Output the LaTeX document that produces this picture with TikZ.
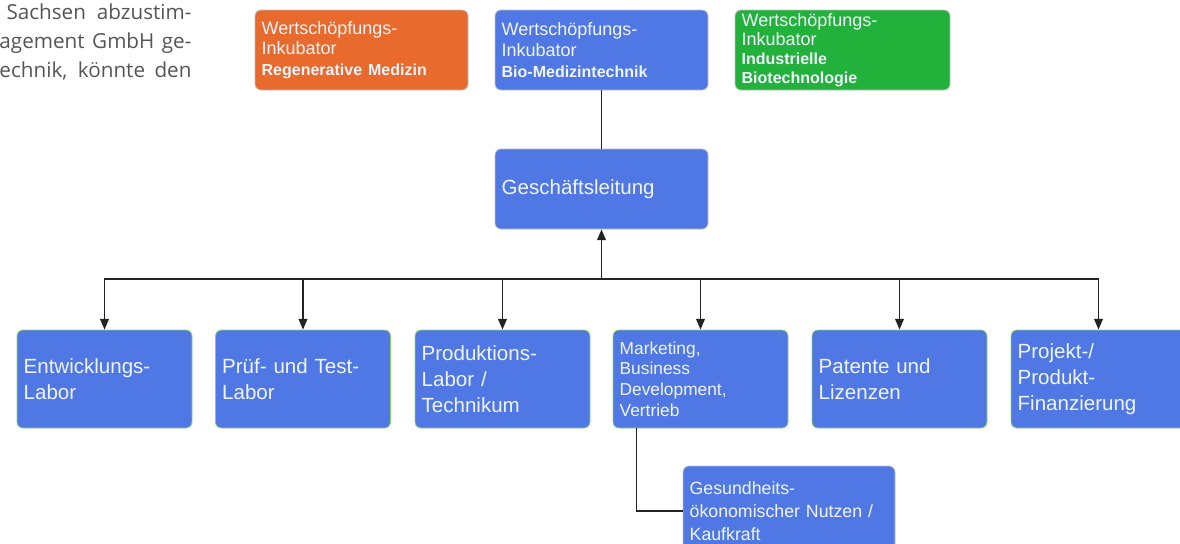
\documentclass[tikz,border=0pt]{standalone}
\usepackage{fontspec}
\setmainfont{Liberation Sans}
\newfontfamily\pagefont{Open Sans}
\usetikzlibrary{arrows.meta}

\tikzset{every picture/.style={line width=0.75pt}}
\tikzset{
  unit/.style={rectangle, rounded corners=4.5pt, draw={rgb, 255:red, 185; green, 190; blue, 200}, line width=0.6pt, fill={rgb, 255:red, 80; green, 120; blue, 228}, text={rgb, 255:red, 240; green, 244; blue, 252}, align=left, inner xsep=5pt, inner ysep=0pt},
  topunit/.style={unit, minimum width=159.75pt, text width=149.75pt, minimum height=60pt, font=\fontsize{13.5}{15.5}\selectfont},
  dept/.style={unit, draw={rgb, 255:red, 140; green, 210; blue, 110}, minimum width=131.25pt, text width=121.25pt, minimum height=73.5pt, font=\fontsize{15.4}{19.5}\selectfont},
  link/.style={draw={rgb, 255:red, 35; green, 35; blue, 35}, line width=1.1pt},
  arr/.style={link, -{Triangle[width=6.5pt,length=8pt]}},
  pagetext/.style={anchor=base east, inner sep=0pt, text={rgb, 255:red, 85; green, 85; blue, 85}, font=\pagefont\fontsize{15.5}{20}\selectfont}
}

\begin{document}
\begin{tikzpicture}[x=0.75pt,y=0.75pt,yscale=-1,xscale=1]
\path[use as bounding box] (0,0) rectangle (1180,543);

% Text Node
\node[pagetext] (pa) at (192,19) {\makebox[138.75pt][s]{Sachsen abzustim-}};
% Text Node
\node[pagetext] (pb) at (192,48) {\makebox[144pt][s]{agement GmbH ge-}};
% Text Node
\node[pagetext] (pc) at (192,77) {\makebox[144pt][s]{echnik, könnte den}};

%Shape: Rectangle [regmed]
\node[topunit, fill={rgb, 255:red, 232; green, 106; blue, 44}] (regmed) at (361.5,50) {Wertschöpfungs-\\Inkubator\\{\bfseries\fontsize{12}{15.5}\selectfont Regenerative Medizin}};
%Shape: Rectangle [biomed]
\node[topunit] (biomed) at (601.5,50) {Wertschöpfungs-\\Inkubator\\{\bfseries\fontsize{12}{15.5}\selectfont Bio-Medizintechnik}};
%Shape: Rectangle [indbio]
\node[topunit, fill={rgb, 255:red, 34; green, 177; blue, 58}, minimum width=161.25pt, text width=151.25pt, font=\fontsize{13.5}{14.25}\selectfont] (indbio) at (842.5,50) {Wertschöpfungs-\\Inkubator\\{\bfseries\fontsize{12}{14.25}\selectfont Industrielle\\Biotechnologie}};

%Shape: Rectangle [gl]
\node[topunit, font=\fontsize{15.4}{18}\selectfont] (gl) at (601.5,189) {Geschäftsleitung};

%Shape: Rectangle [depts]
\node[dept] (entw) at (104.5,379) {Entwicklungs-\\Labor};
\node[dept] (pruef) at (303,379) {Prüf- und Test-\\Labor};
\node[dept] (prod) at (502.5,379) {Produktions-\\Labor /\\Technikum};
\node[dept, font=\fontsize{13}{15.5}\selectfont] (mark) at (700.5,379) {Marketing,\\Business\\Development,\\Vertrieb};
\node[dept] (pat) at (899.5,379) {Patente und\\Lizenzen};
\node[dept] (proj) at (1098.5,379) {Projekt-/\\Produkt-\\Finanzierung};

%Shape: Rectangle [ges]
\node[unit, minimum width=159pt, text width=149pt, minimum height=67.5pt, font=\fontsize{13.3}{17}\selectfont] (ges) at (789,511) {Gesundheits-\\ökonomischer Nutzen /\\Kaufkraft};

%Straight Lines
\coordinate (bus) at (601.5,279);
\draw[link] (biomed.south) -- (gl.north);
\draw[arr] (bus) -- (gl.south);
\foreach \d in {entw,pruef,prod,mark,pat,proj}
  \draw[arr] (bus) -| (\d.north);
\draw[link] ([xshift=18pt]mark.south west) |- (ges.west);

\end{tikzpicture}
\end{document}
